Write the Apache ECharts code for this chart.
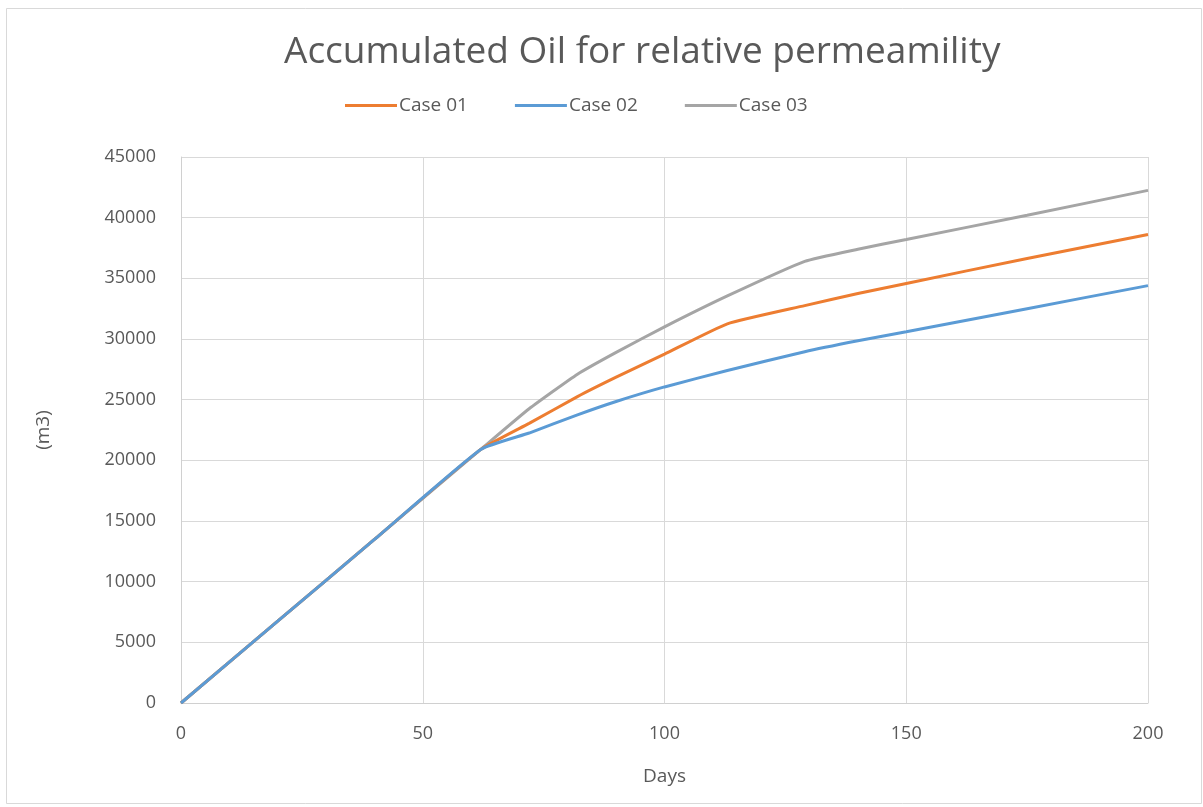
<!DOCTYPE html>
<html>
<head>
<meta charset="utf-8">
<script src="https://cdn.jsdelivr.net/npm/echarts@6/dist/echarts.min.js"></script>
<style>
  html, body { margin: 0; padding: 0; background: #ffffff; }
  #chart { width: 1203px; height: 807px; }
</style>
</head>
<body>
<div id="chart"></div>
<script>
// Accumulated oil production (m3) over time (days) for three relative-permeability cases
const days   = [0, 20, 40, 62, 72, 82, 90, 100, 113, 129, 140, 150, 175, 200];
const case01 = [0, 6740, 13480, 20900, 23050, 25250, 26850, 28750, 31250, 32750, 33750, 34580, 36640, 38620];
const case02 = [0, 6740, 13480, 20900, 22250, 23750, 24850, 26050, 27400, 28950, 29850, 30600, 32500, 34400];
const case03 = [0, 6740, 13480, 20900, 24250, 27100, 28900, 31000, 33550, 36400, 37400, 38200, 40200, 42250];
const seriesNames = ['Case 01', 'Case 02', 'Case 03'];
const xTicks = [0, 50, 100, 150, 200];
const yTicks = [0, 5000, 10000, 15000, 20000, 25000, 30000, 35000, 40000, 45000];

const colors = ['#ED7D31', '#5B9BD5', '#A5A5A5'];
const font = 'Open Sans, Liberation Sans, sans-serif';
const textColor = '#595959';

function pairs(xs, ys) { return xs.map((x, i) => [x, ys[i]]); }

const chart = echarts.init(document.getElementById('chart'), null, { renderer: 'canvas' });

chart.setOption({
  backgroundColor: '#ffffff',
  animation: false,
  color: colors,
  graphic: [{
    type: 'rect',
    shape: { x: 6.5, y: 8.5, width: 1195, height: 795 },
    style: { fill: 'none', stroke: '#d9d9d9', lineWidth: 1 },
    silent: true
  }],
  title: {
    text: 'Accumulated Oil for relative permeamility',
    left: 279,
    top: 29,
    textStyle: { fontFamily: font, fontSize: 37, fontWeight: 'normal', color: textColor }
  },
  legend: {
    top: 91,
    left: 340,
    itemWidth: 52,
    itemHeight: 3,
    itemGap: 47,
    icon: 'rect',
    data: seriesNames,
    textStyle: { fontFamily: font, fontSize: 19, color: textColor, padding: [0, 0, 0, -3] }
  },
  grid: { left: 181, right: 55, top: 157, bottom: 104, containLabel: false },
  xAxis: {
    type: 'value',
    min: xTicks[0],
    max: xTicks[xTicks.length - 1],
    interval: xTicks[1] - xTicks[0],
    name: 'Days',
    nameLocation: 'middle',
    nameGap: 64,
    nameTextStyle: { fontFamily: font, fontSize: 19, color: textColor },
    axisLine: { show: true, lineStyle: { color: '#d0d0d0', width: 1 } },
    axisTick: { show: false },
    axisLabel: { fontFamily: font, fontSize: 18, color: textColor, margin: 22 },
    splitLine: { show: true, lineStyle: { color: '#d9d9d9', width: 1 } }
  },
  yAxis: {
    type: 'value',
    min: yTicks[0],
    max: yTicks[yTicks.length - 1],
    interval: yTicks[1] - yTicks[0],
    name: '(m3)',
    nameLocation: 'middle',
    nameGap: 128,
    nameRotate: 90,
    nameTextStyle: { fontFamily: font, fontSize: 19, color: textColor },
    axisLine: { show: true, lineStyle: { color: '#d0d0d0', width: 1 } },
    axisTick: { show: false },
    axisLabel: { fontFamily: font, fontSize: 18, color: textColor, margin: 25, formatter: v => String(v) },
    splitLine: { show: true, lineStyle: { color: '#d9d9d9', width: 1 } }
  },
  series: [
    { name: seriesNames[0], type: 'line', data: pairs(days, case01) },
    { name: seriesNames[1], type: 'line', data: pairs(days, case02) },
    { name: seriesNames[2], type: 'line', data: pairs(days, case03) }
  ].map(s => Object.assign(s, {
    showSymbol: false,
    symbol: 'none',
    smooth: 0.15,
    lineStyle: { width: 3 },
    z: s.name === 'Case 03' ? 1 : 2
  }))
});
</script>
</body>
</html>
